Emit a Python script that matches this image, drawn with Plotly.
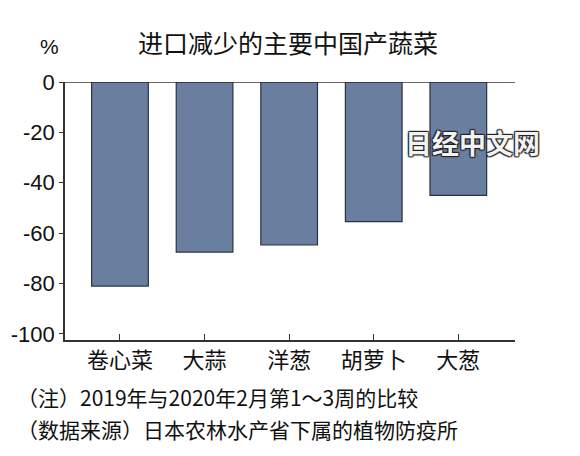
import plotly.graph_objects as go

categories = ["卷心菜", "大蒜", "洋葱", "胡萝卜", "大葱"]
changes = [-81, -67.5, -64.7, -55.4, -45]
y_ticks = [0, -20, -40, -60, -80, -100]
y_tick_labels = ["0", "-20", "-40", "-60", "-80", "-100"]

cjk = "Noto Sans CJK SC"

fig = go.Figure()
fig.add_trace(go.Bar(
    x=list(range(len(categories))), y=changes, width=0.67,
    marker=dict(color="#6a7fa0", line=dict(color="#2a3340", width=1.2)),
))

fig.update_layout(
    width=580, height=456, margin=dict(l=57, r=73, t=74, b=124),
    paper_bgcolor="white", plot_bgcolor="white", showlegend=False,
    xaxis=dict(range=[-0.65, 4.67], tickvals=list(range(len(categories))), ticktext=categories,
               showline=True, linecolor="#333", linewidth=1.5, ticks="inside", ticklen=6,
               tickcolor="#333", showgrid=False, zeroline=False, automargin=False,
               tickfont=dict(family=cjk, size=22, color="#111")),
    yaxis=dict(range=[-102.4, 0], tickvals=y_ticks, ticktext=y_tick_labels, showline=True,
               linecolor="#333", linewidth=1.5, ticks="outside", ticklen=4, tickcolor="#333",
               showgrid=False, zeroline=False, automargin=False,
               tickfont=dict(family="Liberation Sans", size=22, color="#111")),
)
fig.add_hline(y=0, line=dict(color="#333", width=1.5))

fig.add_annotation(text="进口减少的主要中国产蔬菜", x=0.5, y=1, xref="paper", yref="paper",
                   yanchor="bottom", yshift=20, xshift=-2, showarrow=False,
                   font=dict(family=cjk, size=25, color="#111"))
fig.add_annotation(text="%", x=0.0, y=1.0, xref="paper", yref="paper", xanchor="right",
                   yanchor="bottom", yshift=22, xshift=-4, showarrow=False,
                   font=dict(family="Liberation Sans", size=21, color="#111"))
fig.add_annotation(text="<b>日经中文网</b>", x=1.06, y=-24, xref="paper", yref="y", xanchor="right",
                   showarrow=False,
                   font=dict(family=cjk, size=27, color="#f2f2f2",
                             shadow="1px 1px 1px #222, -1px -1px 1px #222, 1px -1px 1px #222, -1px 1px 1px #222"))
fig.add_annotation(text="（注）2019年与2020年2月第1～3周的比较", x=0, y=0, xref="paper", yref="paper",
                   xanchor="left", yanchor="top", xshift=-50, yshift=-40, showarrow=False,
                   font=dict(family=cjk, size=21, color="#111"))
fig.add_annotation(text="（数据来源）日本农林水产省下属的植物防疫所", x=0, y=0, xref="paper", yref="paper",
                   xanchor="left", yanchor="top", xshift=-50, yshift=-72, showarrow=False,
                   font=dict(family=cjk, size=21, color="#111"))

fig.write_html("out.html")
